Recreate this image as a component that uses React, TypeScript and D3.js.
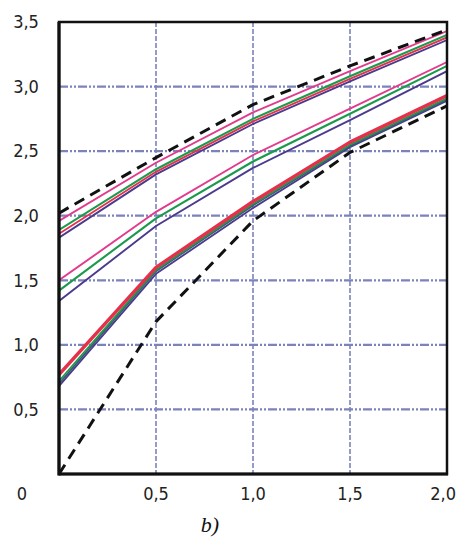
import React from "react";
import * as d3 from "d3";

const xValues = [0, 0.5, 1.0, 1.5, 2.0];
const xTicks = [0.5, 1.0, 1.5, 2.0];
const yTicks = [0.5, 1.0, 1.5, 2.0, 2.5, 3.0, 3.5];

const upperDashed = [2.02, 2.45, 2.86, 3.16, 3.44];
const upperPink = [1.96, 2.41, 2.8, 3.12, 3.43];
const upperGreen = [1.89, 2.36, 2.75, 3.08, 3.4];
const upperRed = [1.86, 2.34, 2.73, 3.06, 3.38];
const upperPurple = [1.83, 2.32, 2.71, 3.04, 3.36];
const midPink = [1.5, 2.03, 2.47, 2.83, 3.19];
const midGreen = [1.42, 1.98, 2.42, 2.79, 3.16];
const midPurple = [1.34, 1.92, 2.37, 2.74, 3.12];
const lowPurple = [0.68, 1.55, 2.06, 2.53, 2.89];
const lowSlate = [0.7, 1.57, 2.08, 2.54, 2.9];
const lowGreen = [0.72, 1.58, 2.09, 2.55, 2.91];
const lowRed = [0.77, 1.6, 2.11, 2.57, 2.93];
const lowerDashed = [0.0, 1.18, 1.96, 2.49, 2.85];

const PINK = "#e23a8c";
const GREEN = "#1b9a4c";
const RED = "#e5304c";
const PURPLE = "#4b3a8e";
const SLATE = "#3b5a70";
const GRID = "#7c83bc";

const series = [
  { v: upperPurple, c: PURPLE, w: 1.9, dash: null },
  { v: upperRed, c: RED, w: 1.9, dash: null },
  { v: upperGreen, c: GREEN, w: 2.1, dash: null },
  { v: upperPink, c: PINK, w: 1.9, dash: null },
  { v: midPurple, c: PURPLE, w: 1.9, dash: null },
  { v: midGreen, c: GREEN, w: 2.1, dash: null },
  { v: midPink, c: PINK, w: 1.9, dash: null },
  { v: lowPurple, c: PURPLE, w: 1.8, dash: null },
  { v: lowSlate, c: SLATE, w: 1.8, dash: null },
  { v: lowGreen, c: GREEN, w: 1.8, dash: null },
  { v: lowRed, c: RED, w: 3.4, dash: null },
  { v: upperDashed, c: "#111", w: 3, dash: "11,7" },
  { v: lowerDashed, c: "#111", w: 3, dash: "11,7" },
];

export default function App() {
  const W = 457;
  const H = 539;
  const x0 = 59, x1 = 447, yTop = 22, yBot = 474;
  const x = d3.scaleLinear().domain([0, 2]).range([x0, x1]);
  const y = d3.scaleLinear().domain([0, 3.5]).range([yBot, yTop]);
  const line = d3
    .line<number>()
    .x((_, i) => x(xValues[i]))
    .y((d) => y(d));
  const font = "'Liberation Sans Narrow', 'DejaVu Sans Condensed', 'Arial Narrow', sans-serif";
  const fmt = (t: number) => d3.format(".1f")(t).replace(".", ",");

  return (
    <svg
      width={W}
      height={H}
      style={{ position: "absolute", left: 0, top: 0, background: "#fff" }}
    >
      <defs>
        <clipPath id="plot">
          <rect x={x0} y={yTop} width={x1 - x0} height={yBot - yTop} />
        </clipPath>
      </defs>
      {yTicks.slice(0, 6).map((t) => (
        <line
          key={"h" + t}
          x1={x0}
          x2={x1}
          y1={y(t)}
          y2={y(t)}
          stroke={GRID}
          strokeWidth={2.2}
          strokeDasharray="9,2,2,2,2,2"
        />
      ))}
      {xTicks.slice(0, 3).map((t) => (
        <line
          key={"v" + t}
          x1={x(t)}
          x2={x(t)}
          y1={yTop}
          y2={yBot}
          stroke={GRID}
          strokeWidth={1.6}
          strokeDasharray="5,2"
        />
      ))}
      <g clipPath="url(#plot)">
        {series.map((s, i) => (
          <path
            key={i}
            d={line(s.v) || ""}
            fill="none"
            stroke={s.c}
            strokeWidth={s.w}
            strokeDasharray={s.dash || undefined}
            strokeLinejoin="round"
          />
        ))}
      </g>
      <rect
        x={x0}
        y={yTop}
        width={x1 - x0}
        height={yBot - yTop}
        fill="none"
        stroke="#111"
        strokeWidth={2.5}
      />
      <line x1={x0} x2={x0} y1={yTop} y2={yBot + 1.5} stroke="#111" strokeWidth={3.2} />
      <line x1={x0} x2={x1 + 1} y1={yBot} y2={yBot} stroke="#111" strokeWidth={3.2} />
      {yTicks.map((t) => (
        <text
          key={"yl" + t}
          x={26}
          y={y(t)}
          dy="0.35em"
          textAnchor="middle"
          fontFamily={font}
          fontSize={18}
          fill="#222"
        >
          {fmt(t)}
        </text>
      ))}
      <text x={22} y={494} dy="0.35em" textAnchor="middle" fontFamily={font} fontSize={18} fill="#222">
        0
      </text>
      {xTicks.map((t) => (
        <text
          key={"xl" + t}
          x={t === 2 ? 456 : x(t)}
          y={494}
          dy="0.35em"
          textAnchor={t === 2 ? "end" : "middle"}
          fontFamily={font}
          fontSize={18}
          fill="#222"
        >
          {fmt(t)}
        </text>
      ))}
      <text
        x={210}
        y={532}
        textAnchor="middle"
        fontFamily="'Liberation Serif', 'DejaVu Serif', serif"
        fontStyle="italic"
        fontSize={22}
        fill="#111"
      >
        b)
      </text>
    </svg>
  );
}
